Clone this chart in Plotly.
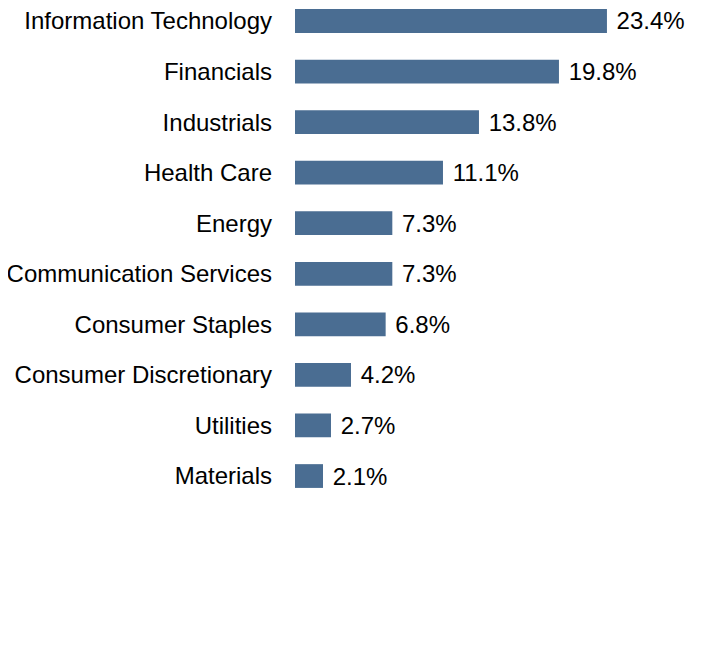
import plotly.graph_objects as go

# sector weights, top to bottom
sectors = [
    "Information Technology",
    "Financials",
    "Industrials",
    "Health Care",
    "Energy",
    "Communication Services",
    "Consumer Staples",
    "Consumer Discretionary",
    "Utilities",
    "Materials",
]
weights = [23.4, 19.8, 13.8, 11.1, 7.3, 7.3, 6.8, 4.2, 2.7, 2.1]
labels = [f" {w:.1f}%" for w in weights]

fig = go.Figure(
    go.Bar(
        x=weights,
        y=sectors,
        orientation="h",
        marker=dict(color="#4a6d92", line=dict(width=0)),
        width=0.47,
        text=labels,
        textposition="outside",
        constraintext="none",
        textfont=dict(size=24, color="#000000"),
        cliponaxis=False,
    )
)

fig.update_layout(
    width=720,
    height=672,
    margin=dict(l=287, r=20, t=0, b=162),
    plot_bgcolor="white",
    paper_bgcolor="white",
    font=dict(family="Liberation Sans, Arial, sans-serif", size=24, color="#000000"),
    showlegend=False,
    xaxis=dict(range=[0, 30.98], visible=False),
    yaxis=dict(
        type="category",
        range=[9.83, -0.257],
        showgrid=False,
        showline=False,
        zeroline=False,
        ticks="",
        ticklabelstandoff=22,
    ),
)

fig.write_html("out.html")
